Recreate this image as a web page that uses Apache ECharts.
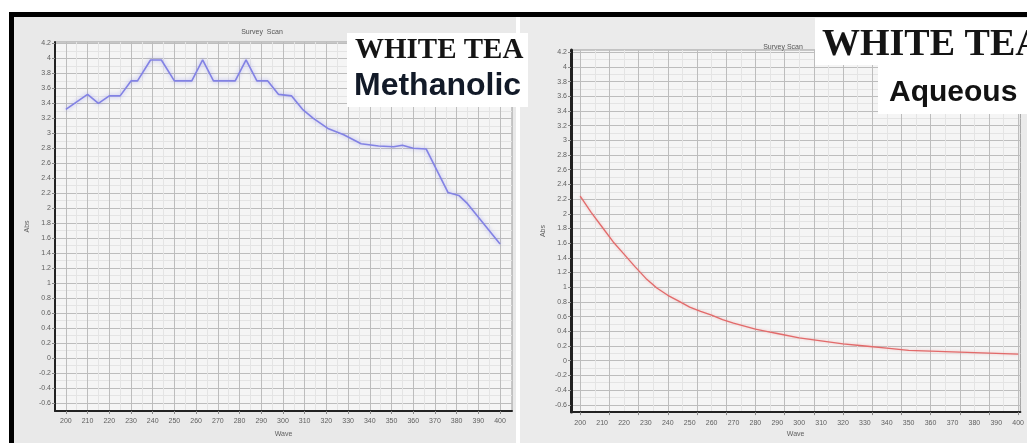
<!DOCTYPE html>
<html>
<head>
<meta charset="utf-8">
<script src="https://cdn.jsdelivr.net/npm/echarts@6/dist/echarts.min.js"></script>
<style>
  html, body { margin: 0; padding: 0; background: #fff; }
  #chart { width: 1027px; height: 443px; }
</style>
</head>
<body>
<div id="chart"></div>
<script>
// White tea, methanolic extract: absorbance scan (vertices of the trace)
const methanolicWave = [200, 210, 215, 220, 225, 230, 233, 239, 244, 250, 258, 263, 268, 278, 283, 288, 293, 298, 304, 309, 314, 321, 328, 336, 344, 351, 355, 360, 366, 376, 381, 385, 400];
const methanolicAbs  = [3.32, 3.52, 3.40, 3.50, 3.50, 3.70, 3.70, 3.98, 3.98, 3.70, 3.70, 3.98, 3.70, 3.70, 3.98, 3.70, 3.70, 3.52, 3.50, 3.32, 3.20, 3.06, 2.98, 2.86, 2.83, 2.82, 2.84, 2.80, 2.79, 2.21, 2.17, 2.06, 1.52];

// White tea, aqueous extract: absorbance scan
const aqueousWave = [200, 205, 210, 215, 220, 225, 230, 235, 240, 245, 250, 255, 260, 265, 270, 275, 280, 285, 290, 300, 310, 320, 330, 340, 350, 360, 370, 380, 390, 400];
const aqueousAbs  = [2.24, 2.02, 1.82, 1.62, 1.45, 1.28, 1.12, 0.99, 0.89, 0.81, 0.73, 0.67, 0.62, 0.56, 0.51, 0.47, 0.43, 0.40, 0.37, 0.31, 0.27, 0.23, 0.20, 0.17, 0.14, 0.13, 0.12, 0.11, 0.10, 0.09];

// Axis tick labels
const waveTicks = [200, 210, 220, 230, 240, 250, 260, 270, 280, 290, 300, 310, 320, 330, 340, 350, 360, 370, 380, 390, 400];
const absTicks  = [-0.6, -0.4, -0.2, 0, 0.2, 0.4, 0.6, 0.8, 1, 1.2, 1.4, 1.6, 1.8, 2, 2.2, 2.4, 2.6, 2.8, 3, 3.2, 3.4, 3.6, 3.8, 4, 4.2];

// Grid line positions
const midpoints = arr => arr.slice(0, -1).map((v, i) => (v + arr[i + 1]) / 2);
const absMinor = midpoints(absTicks).concat([-0.7]);
const waveMinor = midpoints(waveTicks);
// the aqueous panel's vertical grid divides 200–400 into 15 parts
const aqueousGrid = Array.from({ length: 16 }, (_, k) => 200 + k * 200 / 15);
const aqueousGridMinor = midpoints(aqueousGrid);

const zip = (xs, ys) => xs.map((x, i) => [x, ys[i]]);
const FONT = 'Liberation Sans, Arial, sans-serif';
const labelColor = '#606060';
const majorLine = '#bdbdbd';
const minorLine = '#e4e4e4';

function mainX(grid, min, max, gridVals, nameGap) {
  return {
    gridIndex: grid, type: 'value', min: min, max: max,
    axisLine: { show: true, onZero: false, lineStyle: { color: '#222', width: 2 } },
    axisTick: { show: true, customValues: gridVals, length: 3, lineStyle: { color: '#888' } },
    axisLabel: { customValues: waveTicks, fontSize: 7, color: labelColor, margin: 7, fontFamily: FONT },
    splitLine: { show: true, lineStyle: { color: majorLine, width: 1 } },
    name: 'Wave', nameLocation: 'middle', nameGap: nameGap,
    nameTextStyle: { fontSize: 7, color: labelColor, fontFamily: FONT }
  };
}
function minorX(grid, min, max, vals) {
  return {
    gridIndex: grid, type: 'value', min: min, max: max, position: 'bottom',
    axisLine: { show: false }, axisLabel: { show: false },
    axisTick: { show: false, customValues: vals },
    splitLine: { show: true, lineStyle: { color: minorLine, width: 1 } }
  };
}
function mainY(grid, min, max, width, nameGap) {
  return {
    gridIndex: grid, type: 'value', min: min, max: max,
    axisLine: { show: true, onZero: false, lineStyle: { color: '#222', width: width } },
    axisTick: { show: true, customValues: absTicks, length: 3, lineStyle: { color: '#888' } },
    axisLabel: {
      customValues: absTicks, fontSize: 7, color: labelColor, margin: 4, fontFamily: FONT,
      formatter: v => String(+(+v).toFixed(1))
    },
    splitLine: { show: true, lineStyle: { color: majorLine, width: 1 } },
    name: 'Abs', nameLocation: 'middle', nameGap: nameGap,
    nameTextStyle: { fontSize: 7, color: labelColor, fontFamily: FONT }
  };
}
function minorY(grid, min, max) {
  return {
    gridIndex: grid, type: 'value', min: min, max: max, position: 'left',
    axisLine: { show: false }, axisLabel: { show: false },
    axisTick: { show: false, customValues: absMinor },
    splitLine: { show: true, lineStyle: { color: minorLine, width: 1 } }
  };
}

const chart = echarts.init(document.getElementById('chart'), null, { renderer: 'canvas' });

const option = {
  backgroundColor: '#ffffff',
  animation: false,
  grid: [
    { left: 55, top: 42, width: 457, height: 372, show: true, backgroundColor: '#f5f5f5', borderColor: '#9a9a9a', borderWidth: 1 },
    { left: 571, top: 50, width: 451, height: 365, show: true, backgroundColor: '#f5f5f5', borderColor: '#9a9a9a', borderWidth: 1 }
  ],
  xAxis: [
    mainX(0, 195, 405.5, waveTicks, 20),
    minorX(0, 195, 405.5, waveMinor),
    mainX(1, 195.8, 401, aqueousGrid, 18),
    minorX(1, 195.8, 401, aqueousGridMinor)
  ],
  yAxis: [
    mainY(0, -0.71, 4.22, 2, 24),
    minorY(0, -0.71, 4.22),
    mainY(1, -0.70, 4.23, 3, 24),
    minorY(1, -0.70, 4.23)
  ],
  series: [
    {
      name: 'Methanolic', type: 'line', xAxisIndex: 0, yAxisIndex: 0,
      data: zip(methanolicWave, methanolicAbs),
      symbol: 'none', z: 3,
      lineStyle: { color: '#8282e4', width: 1.6, shadowBlur: 4, shadowColor: 'rgba(110,110,230,0.55)' }
    },
    {
      name: 'Aqueous', type: 'line', xAxisIndex: 2, yAxisIndex: 2,
      data: zip(aqueousWave, aqueousAbs),
      symbol: 'none', z: 3,
      lineStyle: { color: '#e26a6a', width: 1.3, shadowBlur: 3, shadowColor: 'rgba(230,120,120,0.45)' }
    }
  ],
  graphic: [
    // panel backgrounds and the black frame
    { type: 'rect', z: -20, shape: { x: 14, y: 17, width: 502, height: 426 }, style: { fill: '#e9e9e9' } },
    { type: 'rect', z: -20, shape: { x: 520, y: 17, width: 507, height: 426 }, style: { fill: '#ebebeb' } },
    { type: 'rect', z: 50, shape: { x: 9, y: 12, width: 1018, height: 5 }, style: { fill: '#000' } },
    { type: 'rect', z: 50, shape: { x: 9, y: 12, width: 5, height: 431 }, style: { fill: '#000' } },
    // chart titles
    { type: 'text', z: 50, x: 262, y: 32, style: { text: 'Survey  Scan', fill: '#555', font: '7px "Liberation Sans"', align: 'center', verticalAlign: 'middle' } },
    { type: 'text', z: 50, x: 783, y: 47, style: { text: 'Survey Scan', fill: '#555', font: '7px "Liberation Sans"', align: 'center', verticalAlign: 'middle' } },
    // caption boxes
    { type: 'rect', z: 60, shape: { x: 347, y: 33, width: 181, height: 74 }, style: { fill: '#fff' } },
    { type: 'text', z: 61, x: 355, y: 51, style: { text: 'WHITE TEA', font: 'bold 29px "Liberation Serif", "DejaVu Serif", serif', fill: '#141414', align: 'left', verticalAlign: 'middle' } },
    { type: 'text', z: 61, x: 354, y: 86, style: { text: 'Methanolic', font: 'bold 32px "Liberation Sans", Arial, sans-serif', fill: '#121a28', align: 'left', verticalAlign: 'middle' } },
    { type: 'rect', z: 60, shape: { x: 815, y: 18, width: 212, height: 47 }, style: { fill: '#fff' } },
    { type: 'rect', z: 60, shape: { x: 878, y: 64, width: 149, height: 50 }, style: { fill: '#fff' } },
    { type: 'text', z: 61, x: 822, y: 45, style: { text: 'WHITE TEA', font: 'bold 38px "Liberation Serif", "DejaVu Serif", serif', fill: '#141414', align: 'left', verticalAlign: 'middle' } },
    { type: 'text', z: 61, x: 889, y: 93, style: { text: 'Aqueous', font: 'bold 30px "Liberation Sans", Arial, sans-serif', fill: '#121212', align: 'left', verticalAlign: 'middle' } }
  ]
};

chart.setOption(option);
</script>
</body>
</html>
